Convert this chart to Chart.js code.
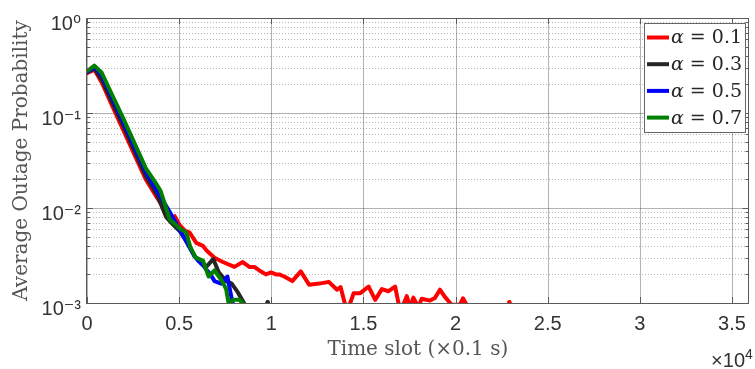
<!DOCTYPE html>
<html>
<head>
<meta charset="utf-8">
<script src="https://cdn.jsdelivr.net/npm/chart.js@4"></script>
<style>
  html, body { margin: 0; padding: 0; background: #fff; }
  #wrap { width: 755px; height: 369px; }
</style>
</head>
<body>
<div id="wrap"><canvas id="chart-outage" width="755" height="369"></canvas></div>
<script>
// series (time slot, average outage probability); null = no value (zero)
const seriesLabels = ['α = 0.1', 'α = 0.3', 'α = 0.5', 'α = 0.7'];
const seriesColors = ['#ff0000', '#262626', '#0000ff', '#008000'];

const redT = [0, 400, 800, 1400, 2000, 2600, 3200, 3800, 4200, 4550, 4760, 5030, 5300, 5570, 5930, 6290, 6470, 6920, 7370,
  8000, 8450, 8810, 9080, 9350, 9710, 9980, 10250, 10430, 10700, 11140, 11600, 12050, 12600, 13120, 13570, 13760, 14110,
  14470, 14830, 15280, 15640, 16000, 16360, 16720, 17000, 17350, 17530, 17710, 17980, 18160, 18610, 18880, 19150, 19420,
  19780, 20230, 20400, 20680, 20900, 22700, 22920, 23100];
const redP = [0.262, 0.285, 0.21, 0.115, 0.064, 0.0355, 0.0198, 0.0128, 0.0097, 0.0078, 0.0082, 0.0066, 0.0058, 0.0055, 0.0043, 0.0040, 0.0036, 0.0030, 0.0027,
  0.0024, 0.0027, 0.0024, 0.0024, 0.0022, 0.0020, 0.0021, 0.0020, 0.0020, 0.0019, 0.0017, 0.00215, 0.00156, 0.0016, 0.00167, 0.00138, 0.00147, 0.0008,
  0.00127, 0.00127, 0.00149, 0.00108, 0.0014, 0.00133, 0.00149, 0.0008, 0.00118, 0.0009, 0.00114, 0.0009, 0.00111, 0.00106, 0.00113, 0.00138, 0.00116,
  0.00096, 0.00096, 0.00112, 0.0009, null, null, 0.00102, null];

const blackT = [0, 400, 800, 1400, 2000, 2600, 3200, 3800, 4300, 4670, 5030, 5390, 5840, 6470, 6850, 7150, 7550, 7850, 8180, 8540, 8800, 9600, 9800, 10000];
const blackP = [0.268, 0.295, 0.225, 0.125, 0.071, 0.039, 0.0215, 0.0138, 0.0080, 0.0067, 0.0057, 0.0045, 0.0031, 0.0024, 0.0029, 0.0021, 0.0017, 0.0016, 0.0013, 0.00098, null, null, 0.00102, null];

const blueT = [0, 400, 800, 1400, 2000, 2600, 3200, 3800, 4500, 4800, 5210, 5840, 6020, 6290, 6700, 6920, 7280, 7620, 7780, 7910, 8100];
const blueP = [0.27, 0.305, 0.25, 0.14, 0.078, 0.043, 0.024, 0.0152, 0.0090, 0.0071, 0.0051, 0.0031, 0.0028, 0.0025, 0.0020, 0.0017, 0.0016, 0.0019, 0.0013, 0.00098, null];

const greenT = [0, 400, 800, 1400, 2000, 2600, 3200, 3800, 4000, 4490, 5030, 5390, 5600, 5900, 6290, 6600, 6920, 7330, 7550, 7700, 7910, 8270, 8540, 8700];
const greenP = [0.275, 0.315, 0.265, 0.15, 0.085, 0.047, 0.026, 0.0175, 0.015, 0.0076, 0.0061, 0.0055, 0.0039, 0.0030, 0.0028, 0.0019, 0.0022, 0.0017, 0.0014, 0.00095, 0.00108, 0.00108, 0.00095, null];

const xTicks = [0, 5000, 10000, 15000, 20000, 25000, 30000, 35000];
const xTickLabels = ['0', '0.5', '1', '1.5', '2', '2.5', '3', '3.5'];
const yTicks = [0.001, 0.01, 0.1, 1];
const yTickLabels = ['10⁻³', '10⁻²', '10⁻¹', '10⁰'];

const sans = '"Liberation Sans", "DejaVu Sans", Arial, sans-serif';
const serif = '"DejaVu Serif", "Liberation Serif", serif';

const toPoints = (T, P) => T.map((t, i) => ({x: t, y: P[i]}));
const allSeries = [[redT, redP], [blackT, blackP], [blueT, blueP], [greenT, greenP]];

// a point with no neighbours would be invisible as a line, so show it as a dot
const lonelyRadius = (c) => {
  const d = c.dataset.data, i = c.dataIndex;
  if (i === undefined || !d[i] || d[i].y == null) return 0;
  const prev = d[i - 1], next = d[i + 1];
  return ((!prev || prev.y == null) && (!next || next.y == null)) ? 2.2 : 0;
};

const frame = {
  id: 'frame',
  beforeDatasetsDraw(chart) {
    const {ctx, chartArea: a, scales: {x, y}} = chart;
    ctx.save();
    ctx.lineWidth = 1;
    // minor dotted grid
    ctx.strokeStyle = 'rgba(0,0,0,0.3)';
    ctx.setLineDash([1, 2]);
    for (let e = -3; e < 0; e++) {
      for (let k = 2; k <= 9; k++) {
        const py = Math.round(y.getPixelForValue(k * Math.pow(10, e))) + 0.5;
        ctx.beginPath(); ctx.moveTo(a.left, py); ctx.lineTo(a.right, py); ctx.stroke();
      }
    }
    ctx.setLineDash([]);
    ctx.strokeStyle = 'rgba(0,0,0,0.3)';
    yTicks.forEach(v => {
      const py = Math.round(y.getPixelForValue(v)) + 0.5;
      ctx.beginPath(); ctx.moveTo(a.left, py); ctx.lineTo(a.right, py); ctx.stroke();
    });
    xTicks.forEach(v => {
      const px = Math.round(x.getPixelForValue(v)) + 0.5;
      ctx.beginPath(); ctx.moveTo(px, a.top); ctx.lineTo(px, a.bottom); ctx.stroke();
    });
    ctx.restore();
  },
  afterDatasetsDraw(chart) {
    const {ctx, chartArea: a, scales: {x, y}} = chart;
    ctx.save();
    ctx.strokeStyle = '#5a5a5a';
    ctx.lineWidth = 1;
    ctx.strokeRect(Math.round(a.left) - 0.5, Math.round(a.top) + 0.5, Math.round(a.right - a.left), Math.round(a.bottom - a.top));
    // inward tick marks
    ctx.beginPath();
    xTicks.forEach(v => {
      const px = Math.round(x.getPixelForValue(v)) + 0.5;
      ctx.moveTo(px, a.bottom); ctx.lineTo(px, a.bottom - 6);
      ctx.moveTo(px, a.top); ctx.lineTo(px, a.top + 6);
    });
    for (let e = -3; e <= 0; e++) {
      for (let k = 1; k <= 9; k++) {
        const v = k * Math.pow(10, e);
        if (v > 1) break;
        const len = k === 1 ? 6 : 3;
        const py = Math.round(y.getPixelForValue(v)) + 0.5;
        ctx.moveTo(a.left, py); ctx.lineTo(a.left + len, py);
        ctx.moveTo(a.right, py); ctx.lineTo(a.right - len, py);
      }
    }
    ctx.stroke();

    // legend box
    const lw = 101, lh = 109;
    const lx = Math.round(a.right) - lw - 4, ly = Math.round(a.top) + 5;
    ctx.fillStyle = '#fff';
    ctx.fillRect(lx, ly, lw, lh);
    ctx.strokeStyle = '#666';
    ctx.strokeRect(lx + 0.5, ly + 0.5, lw, lh);
    chart.data.datasets.forEach((ds, i) => {
      const cy = ly + 14.5 + i * 26.7;
      ctx.strokeStyle = ds.borderColor;
      ctx.lineWidth = 4;
      ctx.beginPath(); ctx.moveTo(lx + 3, cy); ctx.lineTo(lx + 25, cy); ctx.stroke();
      ctx.fillStyle = '#262626';
      ctx.textBaseline = 'middle';
      ctx.textAlign = 'left';
      const sym = ds.label.slice(0, 1), rest = ds.label.slice(1);
      ctx.font = 'italic 19px ' + serif;
      ctx.fillText(sym, lx + 27, cy + 1);
      const w = ctx.measureText(sym).width;
      ctx.font = '19px ' + serif;
      ctx.fillText(rest, lx + 27 + w, cy + 1);
    });

    // axis multiplier
    ctx.fillStyle = '#333';
    ctx.textBaseline = 'alphabetic';
    ctx.textAlign = 'right';
    ctx.font = '20px ' + sans;
    ctx.fillText('×10', 745, 367);
    ctx.textAlign = 'left';
    ctx.font = '14px ' + sans;
    ctx.fillText('4', 745, 359);
    ctx.restore();
  }
};

new Chart(document.getElementById('chart-outage').getContext('2d'), {
  type: 'line',
  data: {
    datasets: allSeries.map(([T, P], i) => ({
      label: seriesLabels[i],
      data: toPoints(T, P),
      borderColor: seriesColors[i],
      backgroundColor: seriesColors[i],
      borderWidth: 4,
      borderJoinStyle: 'round',
      borderCapStyle: 'round',
      tension: 0,
      spanGaps: false,
      fill: false,
      pointRadius: lonelyRadius,
      pointBorderWidth: 0,
      pointBackgroundColor: seriesColors[i],
      order: allSeries.length - i
    }))
  },
  options: {
    responsive: false,
    animation: false,
    devicePixelRatio: 1,
    layout: { padding: { top: 15, right: 3, left: 0, bottom: 0 } },
    plugins: { legend: { display: false }, tooltip: { enabled: false } },
    scales: {
      x: {
        type: 'linear',
        min: 0,
        max: 35900,
        afterBuildTicks: (s) => { s.ticks = xTicks.map(v => ({value: v})); },
        afterFit: (s) => { s.height = 66; },
        grid: { display: false, drawTicks: false },
        border: { display: false },
        ticks: {
          autoSkip: false,
          maxRotation: 0,
          padding: 9,
          color: '#333',
          font: { family: sans, size: 20 },
          callback: (v, i) => xTickLabels[i]
        },
        title: {
          display: true,
          text: 'Time slot (×0.1 s)',
          color: '#555',
          font: { family: serif, size: 20 },
          padding: { top: 0, bottom: 7 }
        }
      },
      y: {
        type: 'logarithmic',
        min: 0.001,
        max: 1,
        afterBuildTicks: (s) => { s.ticks = yTicks.map(v => ({value: v})); },
        afterFit: (s) => { s.width = 87; },
        grid: { display: false, drawTicks: false },
        border: { display: false },
        ticks: {
          autoSkip: false,
          padding: 6,
          labelOffset: 6,
          color: '#333',
          font: { family: sans, size: 20 },
          callback: (v, i) => yTickLabels[i]
        },
        title: {
          display: true,
          text: 'Average Outage Probability',
          color: '#555',
          font: { family: serif, size: 20 },
          padding: { top: 10, bottom: 0 }
        }
      }
    }
  },
  plugins: [frame]
});
</script>
</body>
</html>
